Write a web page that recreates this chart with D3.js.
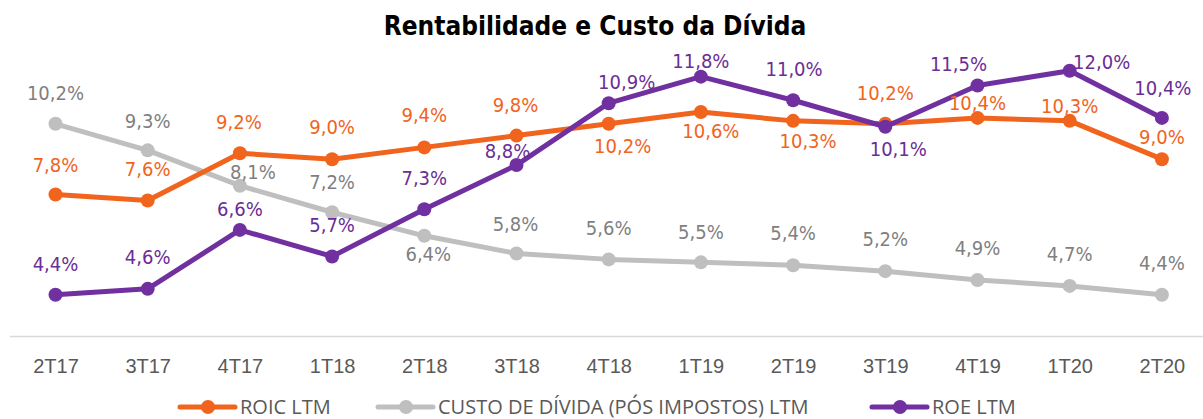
<!DOCTYPE html>
<html>
<head>
<meta charset="utf-8">
<script src="https://cdn.jsdelivr.net/npm/d3@7"></script>
<style>
  body { margin: 0; background: #fff; }
  svg { display: block; font-family: "DejaVu Sans Condensed", "DejaVu Sans", sans-serif; font-stretch: condensed; }
</style>
</head>
<body>
<svg id="chart" width="1203" height="419"></svg>
<script>

// dados
let trimestres = ["2T17","3T17","4T17","1T18","2T18","3T18","4T18","1T19","2T19","3T19","4T19","1T20","2T20"]

let roic = [7.8, 7.6, 9.2, 9.0, 9.4, 9.8, 10.2, 10.6, 10.3, 10.2, 10.4, 10.3, 9.0]
let custo = [10.2, 9.3, 8.1, 7.2, 6.4, 5.8, 5.6, 5.5, 5.4, 5.2, 4.9, 4.7, 4.4]
let roe = [4.4, 4.6, 6.6, 5.7, 7.3, 8.8, 10.9, 11.8, 11.0, 10.1, 11.5, 12.0, 10.4]

let nomes = ["ROIC LTM", "CUSTO DE DÍVIDA (PÓS IMPOSTOS) LTM", "ROE LTM"]

// deslocamento dos rótulos [dx, dy] em relação ao ponto
let off_roic = [[0,-30],[0,-32],[-1,-31],[0,-32],[0,-33],[-1,-31],[14,22],[10,19],[15,20],[0,-31],[0,-15],[0,-15],[0,-22]]
let off_custo = [[0,-31],[0,-30],[13,-14],[0,-30],[4,18],[-1,-30],[0,-32],[0,-31],[0,-32],[0,-32],[0,-32],[0,-32],[0,-32]]
let off_roe = [[0,-31],[0,-32],[0,-21],[0,-32],[0,-31],[-9,-14],[18,-21],[0,-16],[1,-31],[13,22],[-19,-22],[32,-9],[1,-30]]

let series = [
  {nome: nomes[1], valores: custo, off: off_custo, cor: "#BFBFBF", cor_txt: "#7F7F7F"},
  {nome: nomes[0], valores: roic, off: off_roic, cor: "#F0641E", cor_txt: "#F0641E"},
  {nome: nomes[2], valores: roe, off: off_roe, cor: "#7030A0", cor_txt: "#6B2D96"}
]

let svg = d3.select("#chart")

let x = d3.scalePoint()
  .domain(trimestres)
  .range([9.4, 1208])
  .padding(0.5)

let y = d3.scaleLinear()
  .domain([3, 13])
  .range([336, 41.3])

// titulo
svg.append("text")
  .attr("x", 595)
  .attr("y", 35)
  .attr("text-anchor", "middle")
  .style("font-weight", "bold")
  .style("font-size", "26px")
  .style("fill", "#000")
  .text("Rentabilidade e Custo da Dívida")

// eixo x
let eixo = svg.append("g")
  .attr("transform", "translate(0," + y(3) + ")")
  .call(d3.axisBottom(x).tickSize(0).tickPadding(23))

eixo.select(".domain").attr("stroke", "#D9D9D9").attr("stroke-width", 1.5)
eixo.selectAll("text")
  .style("font-size", "20px")
  .style("fill", "#595959")
  .style("font-family", null)

let linha = d3.line()
  .x((d, i) => x(trimestres[i]))
  .y(d => y(d))

series.forEach((s) => {
  let g = svg.append("g")
  g.append("path")
    .datum(s.valores)
    .attr("d", linha)
    .attr("fill", "none")
    .attr("stroke", s.cor)
    .attr("stroke-width", 5)
    .attr("stroke-linejoin", "round")

  g.selectAll("circle")
    .data(s.valores)
    .join("circle")
    .attr("cx", (d, i) => x(trimestres[i]))
    .attr("cy", d => y(d))
    .attr("r", 7)
    .attr("fill", s.cor)
})

let fmt = d => d.toFixed(1).replace(".", ",") + "%"

series.forEach((s) => {
  svg.append("g").selectAll("text")
    .data(s.valores)
    .join("text")
    .attr("x", (d, i) => x(trimestres[i]) + s.off[i][0])
    .attr("y", (d, i) => y(d) + s.off[i][1])
    .attr("dy", "0.36em")
    .attr("text-anchor", "middle")
    .style("font-size", "20px")
    .style("fill", s.cor_txt)
    .text(fmt)
})

// legenda
let leg_pos = [{x: 180, s: series[1]}, {x: 378, s: series[0]}, {x: 872, s: series[2]}]

let leg = svg.append("g").selectAll("g")
  .data(leg_pos)
  .join("g")
  .attr("transform", d => "translate(" + d.x + ",407)")

leg.append("line")
  .attr("x1", 0).attr("x2", 55)
  .attr("stroke", d => d.s.cor)
  .attr("stroke-width", 5)
  .attr("stroke-linecap", "round")

leg.append("circle")
  .attr("cx", 28)
  .attr("r", 7)
  .attr("fill", d => d.s.cor)

leg.append("text")
  .attr("x", 60)
  .attr("y", 6.5)
  .style("font-family", "'Open Sans', sans-serif")
  .style("font-stretch", "normal")
  .style("font-size", "20px")
  .style("fill", "#595959")
  .text(d => d.s.nome)

</script>
</body>
</html>
